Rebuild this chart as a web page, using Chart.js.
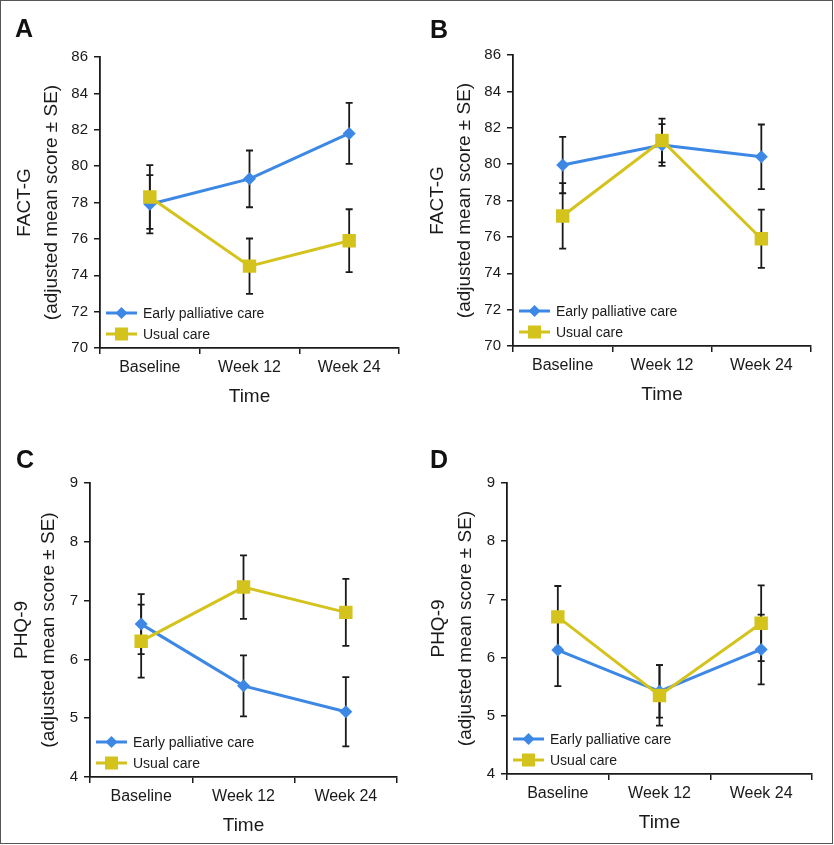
<!DOCTYPE html>
<html>
<head>
<meta charset="utf-8">
<script src="https://cdn.jsdelivr.net/npm/chart.js@4/dist/chart.umd.min.js"></script>
<style>
  body { margin: 0; background: #fff; }
  #wrap { position: relative; width: 834px; height: 845px; font-family: 'Liberation Sans', Arial, sans-serif; }
  #frame { position: absolute; left: 0; top: 0; width: 833px; height: 844px; border: 1px solid #555; box-sizing: border-box; pointer-events: none; }
  .panel { position: absolute; }
  .letter { position: absolute; font: bold 25px 'Liberation Sans', Arial, sans-serif; color: #111; line-height: 1; }
</style>
</head>
<body>
<div id="wrap">
  <div class="panel" style="left:0;top:0;width:417px;height:410px"><canvas id="chartA"></canvas></div>
  <div class="panel" style="left:417px;top:0;width:417px;height:410px"><canvas id="chartB"></canvas></div>
  <div class="panel" style="left:0;top:410px;width:417px;height:435px"><canvas id="chartC"></canvas></div>
  <div class="panel" style="left:417px;top:410px;width:417px;height:435px"><canvas id="chartD"></canvas></div>
  <div class="letter" style="left:15px;top:16px">A</div>
  <div class="letter" style="left:430px;top:17px">B</div>
  <div class="letter" style="left:16px;top:447px">C</div>
  <div class="letter" style="left:430px;top:447px">D</div>
  <div id="frame"></div>
</div>
<script>
// x categories
var timepoints = ['Baseline', 'Week 12', 'Week 24'];
var seriesNames = ['Early palliative care', 'Usual care'];

// A: FACT-G, adjusted mean and SE
var earlyA = [77.9, 79.3, 81.8];
var earlySeA = [1.6, 1.56, 1.68];
var usualA = [78.3, 74.5, 75.9];
var usualSeA = [1.75, 1.52, 1.73];

// B: FACT-G
var earlyB = [79.95, 81.05, 80.4];
var earlySeB = [1.55, 1.15, 1.78];
var usualB = [77.15, 81.3, 75.9];
var usualSeB = [1.8, 1.2, 1.6];

// C: PHQ-9
var earlyC = [6.6, 5.55, 5.11];
var earlySeC = [0.51, 0.52, 0.59];
var usualC = [6.31, 7.23, 6.8];
var usualSeC = [0.62, 0.54, 0.57];

// D: PHQ-9
var earlyD = [6.13, 5.42, 6.14];
var earlySeD = [0.62, 0.45, 0.6];
var usualD = [6.7, 5.35, 6.59];
var usualSeD = [0.53, 0.52, 0.65];

var blue = '#3c88e4';
var yellow = '#d5c31d';
var ink = '#1a1a1a';
var fontFamily = "'Liberation Sans', Arial, sans-serif";

// error bars, drawn under the lines and markers
var errorBars = {
  id: 'errorBars',
  beforeDatasetsDraw: function (chart) {
    var ctx = chart.ctx, x = chart.scales.x, y = chart.scales.y;
    ctx.save();
    ctx.strokeStyle = ink;
    ctx.lineWidth = 1.8;
    chart.data.datasets.forEach(function (ds) {
      ds.data.forEach(function (v, i) {
        var px = x.getPixelForValue(i);
        var top = y.getPixelForValue(v + ds.se[i]);
        var bot = y.getPixelForValue(v - ds.se[i]);
        ctx.beginPath();
        ctx.moveTo(px, top); ctx.lineTo(px, bot);
        ctx.moveTo(px - 3.5, top); ctx.lineTo(px + 3.5, top);
        ctx.moveTo(px - 3.5, bot); ctx.lineTo(px + 3.5, bot);
        ctx.stroke();
      });
    });
    ctx.restore();
  }
};

// legend inside the plot, lower left
var innerLegend = {
  id: 'innerLegend',
  afterDatasetsDraw: function (chart) {
    var ctx = chart.ctx, a = chart.chartArea;
    var rows = [a.bottom - 35, a.bottom - 14];
    ctx.save();
    chart.data.datasets.forEach(function (ds, k) {
      var y0 = rows[k], x0 = a.left + 6;
      ctx.strokeStyle = ds.borderColor;
      ctx.lineWidth = 3;
      ctx.beginPath(); ctx.moveTo(x0, y0); ctx.lineTo(x0 + 31, y0); ctx.stroke();
      ctx.fillStyle = ds.borderColor;
      var cx = x0 + 15.5;
      ctx.beginPath();
      if (ds.pointStyle === 'rectRot') {
        ctx.moveTo(cx, y0 - 6); ctx.lineTo(cx + 6, y0); ctx.lineTo(cx, y0 + 6); ctx.lineTo(cx - 6, y0);
      } else {
        ctx.rect(cx - 6.5, y0 - 6.5, 13, 13);
      }
      ctx.closePath(); ctx.fill();
      ctx.fillStyle = ink;
      ctx.font = '14px ' + fontFamily;
      ctx.textBaseline = 'middle';
      ctx.fillText(ds.label, x0 + 37, y0 + 1);
    });
    ctx.restore();
  }
};

function makePanel(id, g, early, earlySe, usual, usualSe, yTitle, yMin, yMax, yStep) {
  var W = 417;
  return new Chart(document.getElementById(id), {
    type: 'line',
    data: {
      labels: timepoints,
      datasets: [
        {
          label: seriesNames[0], data: early, se: earlySe,
          borderColor: blue, backgroundColor: blue, borderWidth: 3,
          pointStyle: 'rectRot', pointRadius: 6.5, pointHoverRadius: 6.5,
          pointBorderWidth: 0, order: 2
        },
        {
          label: seriesNames[1], data: usual, se: usualSe,
          borderColor: yellow, backgroundColor: yellow, borderWidth: 3,
          pointStyle: 'rect', pointRadius: 9.5, pointHoverRadius: 9.5,
          pointBorderWidth: 0, order: 1
        }
      ]
    },
    options: {
      responsive: true,
      maintainAspectRatio: false,
      animation: false,
      layout: { padding: { left: 0, top: g.top, right: W - g.right, bottom: g.H - g.bottom - 60 } },
      plugins: { legend: { display: false }, tooltip: { enabled: false } },
      scales: {
        x: {
          offset: true,
          afterFit: function (s) { s.height = 60; },
          grid: { display: true, drawOnChartArea: false, drawTicks: true, tickLength: 6, offset: true, color: ink, lineWidth: 1.5 },
          border: { display: true, color: ink, width: 1.8 },
          ticks: { color: ink, padding: 4, font: { family: fontFamily, size: 16 } },
          title: { display: true, text: 'Time', color: ink, padding: { top: 0, bottom: 0 }, font: { family: fontFamily, size: 19 } }
        },
        y: {
          min: yMin, max: yMax,
          afterFit: function (s) { s.width = g.left; },
          grid: { display: true, drawOnChartArea: false, drawTicks: true, tickLength: 6, color: ink, lineWidth: 1.5 },
          border: { display: true, color: ink, width: 1.8 },
          ticks: { stepSize: yStep, color: ink, padding: 6, font: { family: fontFamily, size: 15 } },
          title: {
            display: true, text: [yTitle, '(adjusted mean score \u00b1 SE)'], color: ink,
            padding: { top: g.titlePad, bottom: 0 },
            font: { family: fontFamily, size: 19, lineHeight: 1.42 }
          }
        }
      }
    },
    plugins: [errorBars, innerLegend]
  });
}

makePanel('chartA', { H: 410, left: 100, right: 399, top: 57, bottom: 348, titlePad: 11.5 },
  earlyA, earlySeA, usualA, usualSeA, 'FACT-G', 70, 86, 2);
makePanel('chartB', { H: 410, left: 96, right: 394, top: 55, bottom: 346, titlePad: 7.5 },
  earlyB, earlySeB, usualB, usualSeB, 'FACT-G', 70, 86, 2);
makePanel('chartC', { H: 435, left: 90, right: 397, top: 73, bottom: 367, titlePad: 8.5 },
  earlyC, earlySeC, usualC, usualSeC, 'PHQ-9', 4, 9, 1);
makePanel('chartD', { H: 435, left: 90, right: 395, top: 73, bottom: 364, titlePad: 8.5 },
  earlyD, earlySeD, usualD, usualSeD, 'PHQ-9', 4, 9, 1);
</script>
</body>
</html>
